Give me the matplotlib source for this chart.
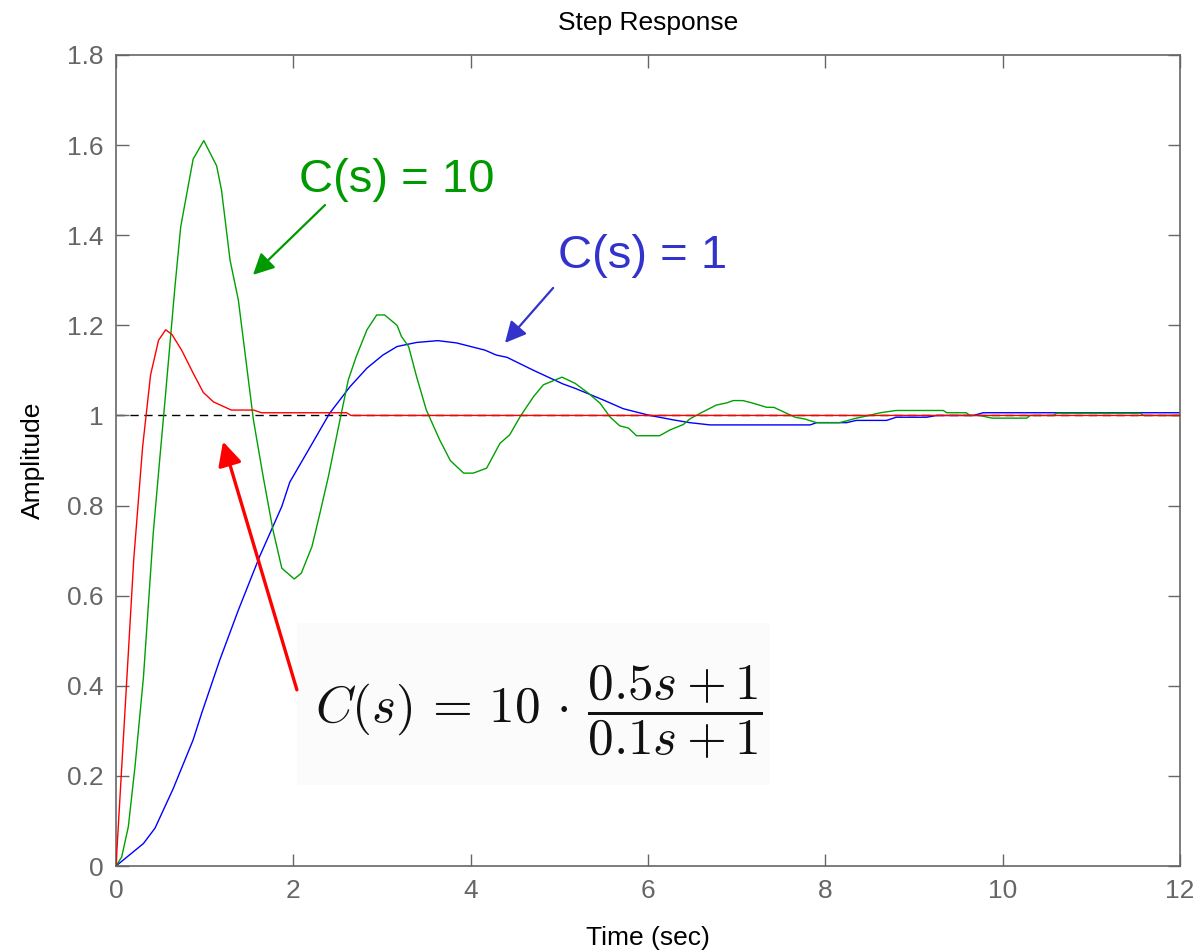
import matplotlib
matplotlib.use("Agg")
import matplotlib.pyplot as plt
from matplotlib.patches import Rectangle

plt.rcParams['font.family'] = ['Liberation Sans', 'DejaVu Sans']
plt.rcParams['mathtext.fontset'] = 'cm'

# ---- data ----
red_t = [0, 0.1, 0.2, 0.3, 0.39, 0.48, 0.56, 0.63, 0.74, 0.87, 0.985, 1.1, 1.3, 1.55, 1.64, 2.6, 2.65, 12]
red_v = [0, 0.34, 0.68, 0.93, 1.09, 1.167, 1.19, 1.18, 1.145, 1.094, 1.051, 1.03, 1.012, 1.012, 1.006, 1.006, 1.0, 1.0]

green_t = [0, 0.064, 0.139, 0.214, 0.31, 0.42, 0.496, 0.553, 0.665, 0.73, 0.87, 0.99, 1.135, 1.19, 1.286, 1.38,
           1.55, 1.66, 1.77, 1.87, 2.01, 2.09, 2.21, 2.30, 2.395, 2.51, 2.62, 2.71, 2.83, 2.94, 3.03, 3.17, 3.22,
           3.30, 3.39, 3.50, 3.65, 3.77, 3.92, 4.03, 4.18, 4.33, 4.44, 4.56, 4.71, 4.82, 5.03, 5.18, 5.33, 5.46,
           5.57, 5.68, 5.78, 5.87, 6.13, 6.25, 6.40, 6.47, 6.59, 6.77, 6.89, 6.96, 7.07, 7.17, 7.34, 7.42, 7.56,
           7.66, 7.77, 7.90, 8.16, 8.24, 8.35, 8.47, 8.62, 8.80, 9.33, 9.37, 9.59, 9.63, 9.74, 9.88, 10.27, 10.31,
           10.57, 10.61, 11.55, 11.59, 12]
green_v = [0, 0.02, 0.087, 0.22, 0.42, 0.739, 0.909, 1.034, 1.286, 1.419, 1.569, 1.61, 1.554, 1.50, 1.345, 1.256,
           0.99, 0.864, 0.746, 0.661, 0.637, 0.65, 0.709, 0.783, 0.864, 0.975, 1.079, 1.131, 1.19, 1.223, 1.223, 1.20,
           1.175, 1.153, 1.086, 1.012, 0.946, 0.90, 0.872, 0.872, 0.883, 0.938, 0.957, 0.998, 1.042, 1.068, 1.085,
           1.071, 1.049, 1.027, 0.997, 0.977, 0.972, 0.955, 0.955, 0.968, 0.98, 0.992, 1.005, 1.023, 1.028, 1.033,
           1.033, 1.028, 1.018, 1.018, 1.005, 0.996, 0.992, 0.984, 0.984, 0.988, 0.994, 0.999, 1.006, 1.011, 1.011,
           1.006, 1.006, 1.0, 1.0, 0.994, 0.994, 1.0, 1.0, 1.005, 1.005, 1.0, 1.0]

blue_t = [0, 0.31, 0.44, 0.646, 0.87, 0.966, 1.17, 1.38, 1.62, 1.87, 1.96, 2.19, 2.41, 2.64, 2.83, 3.01, 3.17,
          3.39, 3.63, 3.84, 4.16, 4.29, 4.41, 4.71, 5.04, 5.18, 5.50, 5.72, 6.02, 6.29, 6.47, 6.70, 7.83, 7.90,
          8.24, 8.35, 8.69, 8.80, 9.14, 9.26, 9.67, 9.78, 12]
blue_v = [0, 0.05, 0.084, 0.172, 0.28, 0.339, 0.457, 0.568, 0.687, 0.798, 0.852, 0.93, 1.005, 1.064, 1.105, 1.134,
          1.153, 1.162, 1.166, 1.161, 1.145, 1.134, 1.129, 1.10, 1.07, 1.06, 1.034, 1.015, 1.0, 0.99, 0.984, 0.979,
          0.979, 0.984, 0.984, 0.989, 0.989, 0.996, 0.996, 1.0, 1.0, 1.006, 1.006]

x_ticks = [0, 2, 4, 6, 8, 10, 12]
y_ticks = [0, 0.2, 0.4, 0.6, 0.8, 1.0, 1.2, 1.4, 1.6, 1.8]
y_tick_labels = ['0', '0.2', '0.4', '0.6', '0.8', '1', '1.2', '1.4', '1.6', '1.8']
steady_state = 1.0

# ---- figure ----
fig = plt.figure(figsize=(12, 9.52), dpi=100)
ax = fig.add_axes([116/1200, 86/952, 1064/1200, 811/952])

gray = '#666666'
ax.add_patch(Rectangle((2.04, 0.18), 5.335, 0.36, facecolor='#fbfbfb', edgecolor='none', zorder=0))

ax.axhline(steady_state, color='black', lw=1.0, ls=(0, (6, 4)), zorder=1)
ax.plot(blue_t, blue_v, color='#0000ff', lw=1.0, zorder=2)
ax.plot(green_t, green_v, color='#00a000', lw=1.0, zorder=2)
ax.plot(red_t, red_v, color='#ff0000', lw=1.0, zorder=3)

ax.set_xlim(0, 12)
ax.set_ylim(0, 1.8)
ax.set_xticks(x_ticks)
ax.set_xticklabels([str(v) for v in x_ticks])
ax.set_yticks(y_ticks)
ax.set_yticklabels(y_tick_labels)
ax.tick_params(direction='in', length=9, width=1, color=gray, labelcolor=gray,
               labelsize=19, top=True, right=True, pad=9)
for s in ax.spines.values():
    s.set_color(gray)
    s.set_linewidth(1.2)

ax.set_title('Step Response', fontsize=19, pad=18)
ax.set_xlabel('Time (sec)', fontsize=19, labelpad=17)
ax.set_ylabel('Amplitude', fontsize=19, labelpad=16)

# annotations
ax.text(3.17, 1.523, 'C(s) = 10', color='#009900', fontsize=34, ha='center', va='center')
ax.annotate('', xy=(1.545, 1.312), xytext=(2.357, 1.467),
            arrowprops=dict(arrowstyle='-|>', color='#009900', lw=1.6, mutation_scale=32,
                            shrinkA=0, shrinkB=0))
ax.text(5.94, 1.354, 'C(s) = 1', color='#3333cc', fontsize=34, ha='center', va='center')
ax.annotate('', xy=(4.387, 1.161), xytext=(4.93, 1.283),
            arrowprops=dict(arrowstyle='-|>', color='#3333cc', lw=1.6, mutation_scale=32,
                            shrinkA=0, shrinkB=0))
ax.annotate('', xy=(1.207, 0.942), xytext=(2.04, 0.391),
            arrowprops=dict(arrowstyle='-|>', color='#ff0000', lw=2.4, mutation_scale=36,
                            shrinkA=0, shrinkB=0))
ax.text(2.244, 0.342, r'$C(s)\,=\,10\,\cdot\,\dfrac{0.5s+1}{0.1s+1}$', fontsize=37, ha='left', va='center',
        color='#111111')

fig.savefig('out.png', dpi=100, facecolor='white')
